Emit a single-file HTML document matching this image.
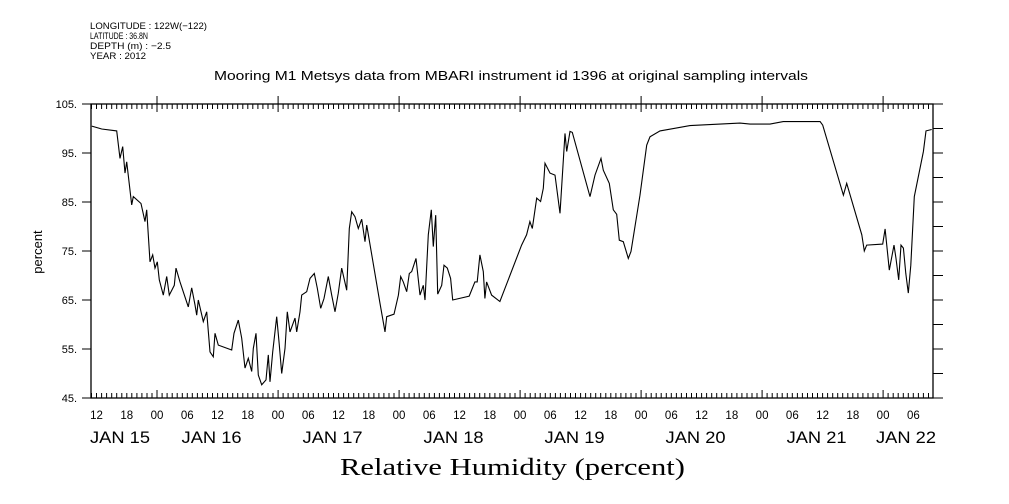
<!DOCTYPE html>
<html><head><meta charset="utf-8"><style>
html,body{margin:0;padding:0;background:#fff;}
svg{display:block;font-family:"Liberation Sans",sans-serif;}
</style></head><body>
<svg id="chart" width="1009" height="504" viewBox="0 0 1009 504" xmlns="http://www.w3.org/2000/svg">
<g font-size="9.5" fill="#000">
<text x="90" y="29" textLength="117" lengthAdjust="spacingAndGlyphs">LONGITUDE : 122W(−122)</text>
<text x="90" y="39" textLength="58" lengthAdjust="spacingAndGlyphs">LATITUDE : 36.8N</text>
<text x="90" y="49" textLength="81" lengthAdjust="spacingAndGlyphs">DEPTH (m) : −2.5</text>
<text x="90" y="59" textLength="56" lengthAdjust="spacingAndGlyphs">YEAR : 2012</text>
</g>
<text x="214" y="80" textLength="594" lengthAdjust="spacingAndGlyphs" font-size="13">Mooring M1 Metsys data from MBARI instrument id 1396 at original sampling intervals</text>
<text x="340" y="475" textLength="345" lengthAdjust="spacingAndGlyphs" font-size="24" font-family="Liberation Serif, serif">Relative Humidity (percent)</text>
<text transform="translate(42,252) rotate(-90)" text-anchor="middle" font-size="13">percent</text>
<rect x="91" y="104" width="842" height="294" fill="none" stroke="#000" stroke-width="1.3"/>
<g id="axes"></g>
<g id="series"></g>
</svg>
<script>
const times=[11.05,13.03,16.0,16.66,17.19,17.65,17.99,18.98,19.29,20.82,21.61,21.95,22.61,23.14,23.6,24.05,24.45,25.24,25.92,26.43,27.42,27.76,28.56,30.2,30.88,31.53,31.87,32.18,33.18,33.85,34.5,35.16,35.5,36.15,38.81,39.26,40.11,40.79,41.44,42.1,42.77,43.09,43.63,44.08,44.76,45.61,46.07,46.4,46.94,47.73,48.25,48.72,49.38,49.83,50.37,51.36,51.7,52.35,52.69,53.68,54.33,55.19,55.78,56.46,57.11,57.96,58.64,59.29,59.95,60.62,61.61,62.13,62.6,63.26,63.91,64.59,65.24,65.58,68.22,69.22,69.55,71.0,71.86,72.33,72.85,73.52,74.04,74.51,75.36,76.15,76.81,77.14,77.8,78.39,78.79,79.26,79.66,80.45,80.91,81.56,82.23,82.63,85.92,87.05,87.5,88.04,88.7,89.03,89.37,90.36,92.0,96.31,97.3,97.96,98.42,99.29,100.08,100.6,100.95,101.94,102.93,103.92,104.91,105.24,105.9,106.36,109.87,110.86,112.05,112.51,113.7,114.49,115.17,115.68,116.48,117.47,118.0,119.79,121.12,121.77,123.76,129.7,139.63,141.61,145.58,148.2,155.5,156.03,160.12,160.79,163.77,164.28,164.76,167.93,168.39,169.24,170.17,170.57,171.1,171.56,172.02,172.5,173.01,173.49,174.2,175.99,176.52,177.65];
const humidity=[100.5,99.9,99.5,93.9,96.3,90.9,93.2,84.4,86.1,84.7,81,83.4,72.8,74.2,71.5,72.8,69.1,66.0,69.8,66,68,71.5,68.7,63.6,67.5,64,61.9,65,60.6,62.6,54.4,53.4,58.2,55.8,54.8,58.2,60.9,57.2,51.1,53.1,50.4,55.1,58.2,49.7,47.7,48.7,53.8,48.3,54.4,61.6,55.8,50,55.1,62.6,58.5,61.3,58.5,62.6,66,66.7,69.4,70.4,67.4,63.3,65.3,69.8,66,62.6,66.4,71.5,67,79.6,83,82,79.6,81.5,76.9,80.3,64.3,58.5,61.6,62.1,66,69.8,68.7,66.7,70.4,70.8,73.5,66,68,65,78.3,83.4,75.9,82.3,66.2,68,72.1,71.5,69.4,65,65.8,68.7,68.7,74.2,70.8,65.3,68.7,66,64.7,76.2,78.3,81,79.6,85.8,85.1,87.8,92.9,90.9,90.5,82.7,99,95.3,99.4,99.2,86.1,90.5,93.9,91.5,88.8,83.4,82.5,77.2,76.9,73.5,74.9,86.4,96.6,98.3,99.5,100.6,101.1,100.9,100.9,101.4,101.4,100.7,86.4,88.8,78.3,75.0,76.2,76.4,79.5,71.1,76.2,73.5,69.1,76.2,75.6,70.4,66.4,72.1,86.1,95.3,99.5,99.8];
const yTicks=[45,55,65,75,85,95,105];
const hourLabels=["12","18","00","06","12","18","00","06","12","18","00","06","12","18","00","06","12","18","00","06","12","18","00","06","12","18","00","06"];
const dayLabels=["JAN 15","JAN 16","JAN 17","JAN 18","JAN 19","JAN 20","JAN 21","JAN 22"];
const NS="http://www.w3.org/2000/svg";
const L=91,R=933,T=104,B=398,H0=10.9,H1=177.9,V0=45,V1=105;
const xs=h=>L+(h-H0)*(R-L)/(H1-H0);
const ys=v=>B-(v-V0)*(B-T)/(V1-V0);
const axes=document.getElementById('axes');
function mk(tag,attrs,parent){const e=document.createElementNS(NS,tag);for(const k in attrs)e.setAttribute(k,attrs[k]);parent.appendChild(e);return e;}
let d='';
for(let h=11;h<=177;h++){const x=xs(h).toFixed(1);const major=h%24===0;const len=major?8:5;
d+=`M${x},${T}v${len}M${x},${B}v-${len}`; if(major)d+=`M${x},${T}v-8`;}
for(let v=45;v<=105;v+=5){const y=ys(v).toFixed(1);d+=`M${R},${y}h10`;if(v%10===5)d+=`M${L},${y}h-9`;}
const tk=mk('path',{d:d,stroke:'#000','stroke-width':1,fill:'none'},axes);


yTicks.forEach(v=>{const t=mk('text',{x:77,y:ys(v)+4,'text-anchor':'end','font-size':11},axes);t.textContent=v+'.';

});
hourLabels.forEach((s,i)=>{const h=12+6*i;const t=mk('text',{x:xs(h),y:419,'text-anchor':'middle','font-size':11.5},axes);t.textContent=s;

});
dayLabels.forEach((s,i)=>{let x=xs(12+24*i)-36;if(i===0){x=90;}if(i===dayLabels.length-1){x=876;}
const t=mk('text',{x:x,y:443,'font-size':17,textLength:60,lengthAdjust:'spacingAndGlyphs'},axes);t.textContent=s;

});
const pts=times.map((h,i)=>xs(h).toFixed(1)+','+ys(humidity[i]).toFixed(1)).join(' ');
const line=mk('polyline',{points:pts,fill:'none',stroke:'#000','stroke-width':1.1},document.getElementById('series'));


</script>
</body></html>
